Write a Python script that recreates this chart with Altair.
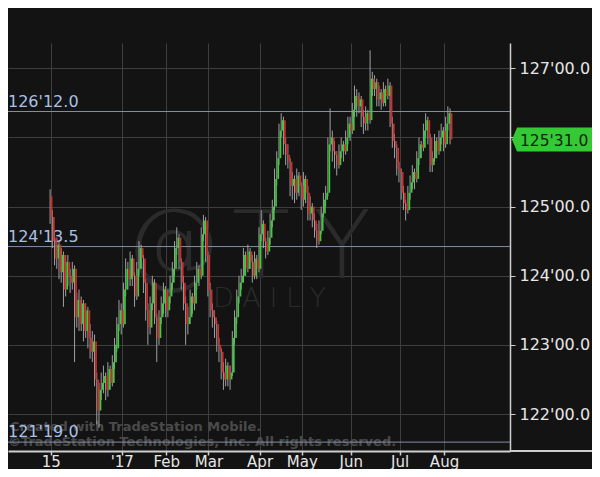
import json
import altair as alt
import pandas as pd

# ---- data (TY daily, bars indexed by trading day from Nov 15 2016) ----
opens = [
    125.15, 124.85, 124.55, 124.25, 124.45, 124.05, 124.30, 123.80, 124.20, 124.00, 123.90,
    124.10, 123.40, 123.65, 123.30, 123.60, 123.20, 123.50, 123.10, 122.90, 123.05, 122.50,
    122.05, 122.35, 122.45, 122.55, 122.35, 122.65, 122.45, 122.75, 122.95, 123.30,
    123.50, 123.30, 123.80, 124.10, 123.95, 124.25, 124.00, 123.70, 124.10, 124.40, 124.25,
    123.90, 123.50, 123.25, 123.60, 123.90, 123.40, 123.10, 123.40, 123.60,
    123.80, 123.50, 123.70, 123.90, 124.10, 124.40, 124.55, 124.20, 123.90, 123.60, 123.30,
    123.40, 123.70, 123.60, 123.90, 124.10, 124.00, 124.60, 124.80,
    124.30, 123.80, 123.50, 123.40, 123.30, 123.00, 122.90, 122.60, 122.50, 122.70, 122.50,
    122.60, 123.10, 123.40, 123.70, 123.90, 124.00, 124.30, 124.10, 124.35, 124.20, 124.00, 124.25,
    124.10, 124.60, 124.75, 124.50, 124.35, 124.55, 124.80, 125.00, 125.40, 125.70, 126.10,
    126.25, 125.90, 125.75, 125.65, 125.30, 125.40, 125.20, 125.45,
    125.30, 125.10, 125.40, 125.20, 124.90, 125.00, 124.80, 124.65, 124.50, 124.65, 124.90,
    125.10, 125.20, 125.90, 126.00, 125.80, 125.75, 125.60, 125.80, 125.90, 125.80, 126.00,
    126.20, 126.10, 126.40, 126.60, 126.45, 126.55, 126.30, 126.20, 126.35, 126.25, 126.85,
    126.70, 126.80, 126.55, 126.65, 126.50, 126.70, 126.60, 126.75, 126.20, 125.95, 125.85,
    125.55, 125.50, 125.20, 125.05, 124.95, 125.20, 125.35, 125.50, 125.40, 125.70, 125.90,
    125.85, 126.10, 126.25, 126.00, 125.60, 125.70, 125.95, 125.80, 126.00,
    126.10, 125.90, 126.20, 126.35,
]
highs = [
    125.25, 124.95, 124.65, 124.55, 124.50, 124.40, 124.35, 124.30, 124.30, 124.10, 124.20,
    124.15, 123.75, 123.80, 123.70, 123.65, 123.60, 123.55, 123.30, 123.20, 123.15, 122.60,
    122.45, 122.60, 122.70, 122.60, 122.75, 122.70, 122.85, 123.10, 123.40, 123.65,
    123.60, 123.90, 124.25, 124.20, 124.35, 124.30, 124.05, 124.20, 124.50, 124.45, 124.30,
    123.95, 123.60, 123.70, 124.00, 123.95, 123.45, 123.50, 123.70, 123.90,
    123.85, 123.80, 124.00, 124.20, 124.50, 124.70, 124.60, 124.25, 124.00, 123.70, 123.55,
    123.80, 123.75, 124.00, 124.20, 124.15, 124.70, 124.88, 124.85,
    124.35, 123.90, 123.60, 123.50, 123.35, 123.10, 122.95, 122.75, 122.80, 122.75, 122.70,
    123.20, 123.50, 123.80, 124.00, 124.10, 124.40, 124.35, 124.45, 124.40, 124.30, 124.35, 124.30,
    124.70, 124.95, 124.80, 124.55, 124.65, 124.90, 125.10, 125.55, 125.80, 126.20, 126.35,
    126.30, 126.00, 125.90, 125.70, 125.50, 125.45, 125.55, 125.50,
    125.35, 125.50, 125.45, 125.30, 125.15, 125.05, 124.90, 124.75, 124.80, 125.00, 125.20,
    125.30, 126.00, 126.42, 126.10, 125.95, 125.80, 125.90, 126.00, 125.95, 126.10, 126.30,
    126.30, 126.50, 126.75, 126.70, 126.65, 126.60, 126.40, 126.45, 126.40, 127.26, 126.95,
    126.90, 126.85, 126.75, 126.70, 126.80, 126.75, 126.85, 126.80, 126.30, 126.05, 125.90,
    125.65, 125.55, 125.30, 125.10, 125.30, 125.45, 125.60, 125.55, 125.80, 126.00, 125.95,
    126.20, 126.35, 126.30, 126.05, 125.80, 126.05, 126.00, 126.10, 126.20,
    126.15, 126.30, 126.45, 126.42,
]
lows = [
    124.75, 124.40, 124.15, 124.10, 123.95, 123.90, 123.55, 123.70, 123.85, 123.75, 123.80,
    122.75, 123.25, 123.20, 123.20, 123.05, 123.10, 122.95, 122.80, 122.75, 122.40, 121.85,
    121.80, 122.20, 122.30, 122.20, 122.25, 122.35, 122.40, 122.65, 122.90, 123.20,
    123.15, 123.25, 123.70, 123.80, 123.85, 123.85, 123.55, 123.65, 124.00, 124.10, 123.75,
    123.35, 123.00, 123.15, 123.50, 123.30, 122.75, 123.00, 123.30, 123.45,
    123.40, 123.40, 123.60, 123.80, 124.00, 124.30, 124.10, 123.80, 123.50, 123.00, 123.15,
    123.30, 123.45, 123.50, 123.80, 123.85, 123.95, 124.50, 124.20,
    123.70, 123.40, 123.25, 123.10, 122.90, 122.75, 122.50, 122.35, 122.40, 122.40, 122.35,
    122.55, 123.00, 123.30, 123.60, 123.80, 123.90, 124.00, 124.05, 124.10, 123.90, 123.95, 123.95,
    124.05, 124.50, 124.40, 124.25, 124.30, 124.45, 124.70, 124.95, 125.30, 125.60, 126.00,
    125.75, 125.60, 125.55, 125.15, 125.10, 125.05, 125.10, 125.15,
    124.95, 125.00, 125.05, 124.80, 124.80, 124.70, 124.55, 124.40, 124.45, 124.60, 124.85,
    125.00, 125.15, 125.80, 125.65, 125.55, 125.45, 125.55, 125.70, 125.65, 125.75, 125.90,
    125.95, 126.05, 126.30, 126.30, 126.35, 126.15, 126.05, 126.10, 126.10, 126.20, 126.60,
    126.60, 126.45, 126.45, 126.40, 126.45, 126.45, 126.55, 126.15, 125.85, 125.70, 125.45,
    125.35, 125.10, 124.95, 124.80, 124.90, 125.10, 125.25, 125.25, 125.35, 125.60, 125.70,
    125.80, 126.00, 125.90, 125.50, 125.50, 125.65, 125.70, 125.75, 125.90,
    125.80, 125.85, 126.10, 125.90,
]
closes = [
    124.85, 124.50, 124.25, 124.45, 124.05, 124.30, 123.80, 124.20, 124.00, 123.90, 124.10,
    123.40, 123.65, 123.30, 123.60, 123.20, 123.50, 123.10, 122.90, 123.05, 122.50, 122.05,
    122.35, 122.45, 122.55, 122.35, 122.65, 122.45, 122.75, 123.00, 123.30, 123.50,
    123.30, 123.80, 124.10, 123.95, 124.25, 124.00, 123.70, 124.10, 124.40, 124.25, 123.90,
    123.50, 123.25, 123.60, 123.90, 123.40, 123.10, 123.40, 123.60, 123.80,
    123.50, 123.70, 123.90, 124.10, 124.40, 124.55, 124.20, 123.90, 123.60, 123.30, 123.40,
    123.70, 123.60, 123.90, 124.10, 124.00, 124.60, 124.80, 124.30,
    123.80, 123.50, 123.40, 123.30, 123.00, 122.90, 122.60, 122.50, 122.70, 122.50, 122.60,
    123.10, 123.40, 123.70, 123.90, 124.00, 124.30, 124.10, 124.35, 124.20, 124.00, 124.25, 124.10,
    124.60, 124.75, 124.50, 124.35, 124.55, 124.80, 125.00, 125.40, 125.70, 126.10, 126.25,
    125.90, 125.75, 125.65, 125.30, 125.40, 125.20, 125.45, 125.30,
    125.10, 125.40, 125.20, 124.90, 125.00, 124.80, 124.65, 124.50, 124.65, 124.90, 125.10,
    125.20, 125.90, 126.00, 125.80, 125.75, 125.60, 125.80, 125.90, 125.80, 126.00, 126.20,
    126.10, 126.40, 126.60, 126.45, 126.55, 126.30, 126.20, 126.35, 126.25, 126.85, 126.70,
    126.80, 126.55, 126.65, 126.50, 126.70, 126.60, 126.75, 126.20, 125.95, 125.85, 125.55,
    125.50, 125.20, 125.05, 124.95, 125.20, 125.35, 125.50, 125.40, 125.70, 125.90, 125.85,
    126.10, 126.25, 126.00, 125.60, 125.70, 125.95, 125.80, 126.00, 126.10,
    125.90, 126.20, 126.35, 125.97,
]

tick_index = [0, 32, 52, 71, 94, 113, 135, 157, 177]
tick_labels = ["15", "'17", "Feb", "Mar", "Apr", "May", "Jun", "Jul", "Aug"]
price_ticks = [122, 123, 124, 125, 126, 127]
level_prices = [126 + 12 / 32, 124 + 13.5 / 32, 121 + 19 / 32]
level_labels = ["126'12.0", "124'13.5", "121'19.0"]
last_price = 125 + 31 / 32
last_label = "125'31.0"

# ---- frames ----
n = len(closes)
bars = pd.DataFrame({
    "i": list(range(n)), "o": opens, "h": highs, "l": lows, "c": closes,
})
bars["dir"] = ["up" if c >= o else "down" for o, c in zip(opens, closes)]
levels = pd.DataFrame({"p": level_prices, "lab": level_labels})
last = pd.DataFrame({"p": [last_price], "lab": [last_label]})

FONT = "DejaVu Sans"
x_scale = alt.Scale(domain=[-19.22, 206.7], nice=False, zero=False)
y_scale = alt.Scale(domain=[121.465, 127.366], nice=False, zero=False)

x_expr = " : ".join(
    f"datum.value == {v} ? {json.dumps(t)}" for v, t in zip(tick_index, tick_labels)
) + " : ''"

x_axis = alt.Axis(
    values=tick_index, labelExpr=x_expr, title=None, grid=True, gridColor="#3e3e3e",
    gridWidth=1, domainColor="#cfcfcf", domainWidth=2, tickColor="#cfcfcf",
    tickSize=4, tickWidth=1.5, labelColor="#e6e6e6", labelFontSize=15, labelFont=FONT,
    labelBaseline="alphabetic", labelPadding=11, labelOverlap=False,
)
y_axis = alt.Axis(
    orient="right", values=price_ticks, labelExpr="datum.value + \"'00.0\"", title=None,
    grid=True, gridColor="#3e3e3e", gridWidth=1, domainColor="#cfcfcf", domainWidth=1.5,
    tickColor="#cfcfcf", tickSize=5, labelColor="#e6e6e6", labelFontSize=16,
    labelFont=FONT, labelPadding=4, labelOverlap=False,
)

one = alt.Data(values=[{}])
WM = "#2b2b2b"

# watermark
wm_at = alt.Chart(one).mark_text(
    text="@", font=FONT, fontSize=95, fontWeight=200, color=WM,
    align="left", baseline="alphabetic",
).encode(x=alt.value(117), y=alt.value(232))
wm_t = alt.Chart(one).mark_text(
    text="T", font=FONT, fontSize=95, fontWeight=200, color=WM,
    align="left", baseline="alphabetic",
).encode(x=alt.value(224), y=alt.value(235))
wm_y = alt.Chart(one).mark_text(
    text="Y", font=FONT, fontSize=95, fontWeight=200, color=WM,
    align="left", baseline="alphabetic",
).encode(x=alt.value(305), y=alt.value(235))
wm_daily = alt.Chart(one).mark_text(
    text="D A I L Y", font=FONT, fontSize=27, fontWeight=200, color=WM,
    align="left", baseline="alphabetic",
).encode(x=alt.value(205), y=alt.value(264))

copy1 = alt.Chart(one).mark_text(
    text="Created with TradeStation Mobile.", font=FONT, fontSize=13,
    fontWeight="bold", color="#4a4a4a", align="left", baseline="alphabetic",
).encode(x=alt.value(2), y=alt.value(388))
copy2 = alt.Chart(one).mark_text(
    text="\u00a9TradeStation Technologies, Inc. All rights reserved.", font=FONT,
    fontSize=13, fontWeight="bold", color="#4a4a4a", align="left",
    baseline="alphabetic",
).encode(x=alt.value(0), y=alt.value(403))

level_rules = alt.Chart(levels).mark_rule(color="#8290a8", strokeWidth=1).encode(
    y=alt.Y("p:Q", scale=y_scale, axis=y_axis),
)
level_text = alt.Chart(levels).mark_text(
    font=FONT, fontSize=16, color="#a9c0e6", align="left", baseline="alphabetic", dy=-5,
).encode(
    x=alt.value(0),
    y=alt.Y("p:Q", scale=y_scale, axis=y_axis),
    text="lab:N",
)

wicks = alt.Chart(bars).mark_rule(color="#a0a0a0", strokeWidth=1, xOffset=-0.6).encode(
    x=alt.X("i:Q", scale=x_scale, axis=x_axis),
    y=alt.Y("l:Q", scale=y_scale, axis=y_axis),
    y2="h:Q",
)
bodies = alt.Chart(bars).mark_rule(strokeWidth=1.7, xOffset=0.9).encode(
    x=alt.X("i:Q", scale=x_scale, axis=x_axis),
    y=alt.Y("o:Q", scale=y_scale, axis=y_axis),
    y2="c:Q",
    color=alt.Color(
        "dir:N",
        scale=alt.Scale(domain=["up", "down"], range=["#38d038", "#d42a2a"]),
        legend=None,
    ),
)

box = alt.Chart(last).mark_point(
    shape="M0,0 L0.21,-0.5 L3.7,-0.5 L3.7,0.5 L0.21,0.5 Z", size=2304, filled=True,
    fill="#35c935", opacity=1, strokeWidth=0,
).encode(x=alt.value(504), y=alt.Y("p:Q", scale=y_scale, axis=y_axis))
box_text = alt.Chart(last).mark_text(
    font=FONT, fontSize=15.5, color="#0c260c", align="left", baseline="middle", dy=1,
).encode(
    x=alt.value(512), y=alt.Y("p:Q", scale=y_scale, axis=y_axis), text="lab:N",
)

axis_ext = alt.Chart(one).mark_rule(color="#cfcfcf", strokeWidth=2).encode(
    x=alt.value(502), x2=alt.value(584), y=alt.value(408),
)

chart = alt.layer(
    wm_at, wm_t, wm_y, wm_daily, copy1, copy2, level_rules, level_text,
    wicks, bodies, box, box_text, axis_ext,
).properties(
    width=502, height=408,
    autosize=alt.AutoSizeParams(type="none"),
    padding={"left": 0, "top": 35, "right": 82, "bottom": 18},
    background="#131313",
).configure_view(stroke=None)

chart.save("out.html", embed_options={"renderer": "svg", "actions": False})
